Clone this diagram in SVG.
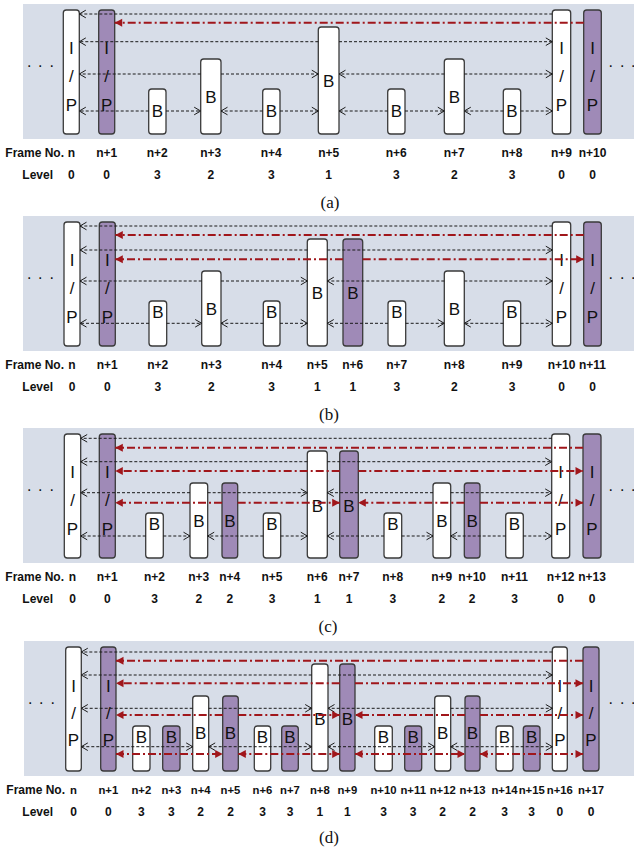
<svg xmlns="http://www.w3.org/2000/svg" width="634" height="853" viewBox="0 0 634 853">
<style>
.bg{fill:#D7DDE8}
.w{fill:#fff;stroke:#3a3a3a;stroke-width:1.3}
.p{fill:#9F8AB7;stroke:#3a3a3a;stroke-width:1.3}
.bl{stroke:#1a1a1a;stroke-width:1;stroke-dasharray:3 2;fill:none;marker-end:url(#ah)}
.rd{stroke:#A0161B;stroke-width:2;stroke-dasharray:8 3 2 3;fill:none;marker-end:url(#rh)}
.b2{marker-start:url(#ah)}
.r2{marker-start:url(#rh)}
.t{font-family:'Liberation Sans',Arial,sans-serif;font-size:17px;text-anchor:middle;fill:#111}
.lb{font-family:'Liberation Sans',Arial,sans-serif;font-size:12px;font-weight:bold;text-anchor:middle;fill:#111}
.sm{font-size:11.3px}
.le{text-anchor:end}
.dots{font-family:'Liberation Sans',Arial,sans-serif;font-size:16px;fill:#111}
.cap{font-family:'Liberation Serif','Times New Roman',serif;font-size:17px;text-anchor:middle;fill:#111}
</style>
<defs>
<marker id="ah" markerUnits="userSpaceOnUse" markerWidth="12" markerHeight="12" viewBox="-8 -6 12 12" refX="0" refY="0" orient="auto-start-reverse"><path d="M-6.5,-3.8 L0,0 L-6.5,3.8" fill="none" stroke="#1a1a1a" stroke-width="1"/></marker>
<marker id="rh" markerUnits="userSpaceOnUse" markerWidth="12" markerHeight="12" viewBox="-8 -6 12 12" refX="0" refY="0" orient="auto-start-reverse"><path d="M-7.5,-4 L0,0 L-7.5,4 z" fill="#A0161B"/></marker>
</defs>

<!-- ================= PANEL (a) ================= -->
<g id="panel-a">
<rect class="bg" x="23" y="4" width="611" height="135"/>
<text class="dots" x="27 38 49.5" y="67">...</text>
<text class="dots" x="608.5 620 631" y="67">...</text>
<g id="a-n"><rect class="w" x="63.3" y="10" width="16" height="124" rx="3"/><text class="t" x="71.3" y="54">I</text><text class="t" x="71.3" y="82">/</text><text class="t" x="71.3" y="111">P</text></g>
<g id="a-n1"><rect class="p" x="98.7" y="10" width="16" height="124" rx="3"/><text class="t" x="106.7" y="54">I</text><text class="t" x="106.7" y="82">/</text><text class="t" x="106.7" y="111">P</text></g>
<g id="a-n2"><rect class="w" x="148.7" y="89" width="17.3" height="45" rx="3"/><text class="t" x="157.3" y="117">B</text></g>
<g id="a-n3"><rect class="w" x="200.7" y="59" width="20.3" height="75" rx="3"/><text class="t" x="210.8" y="103">B</text></g>
<g id="a-n4"><rect class="w" x="262.7" y="89" width="17.3" height="45" rx="3"/><text class="t" x="271.3" y="117">B</text></g>
<g id="a-n5"><rect class="w" x="318.3" y="27" width="20.7" height="107" rx="3"/><text class="t" x="328.7" y="87">B</text></g>
<g id="a-n6"><rect class="w" x="387.7" y="89" width="17.3" height="45" rx="3"/><text class="t" x="396.3" y="117">B</text></g>
<g id="a-n7"><rect class="w" x="444.3" y="59" width="20" height="75" rx="3"/><text class="t" x="454.3" y="103">B</text></g>
<g id="a-n8"><rect class="w" x="503.3" y="89" width="17.4" height="45" rx="3"/><text class="t" x="512" y="117">B</text></g>
<g id="a-n9"><rect class="w" x="552.3" y="10" width="18.4" height="124" rx="3"/><text class="t" x="561.5" y="54">I</text><text class="t" x="561.5" y="82">/</text><text class="t" x="561.5" y="111">P</text></g>
<g id="a-n10"><rect class="p" x="583.7" y="10" width="17.6" height="124" rx="3"/><text class="t" x="592.5" y="54">I</text><text class="t" x="592.5" y="82">/</text><text class="t" x="592.5" y="111">P</text></g>
<g id="a-connectors">
<line class="bl" x1="552.3" y1="14" x2="79.3" y2="14"/>
<line class="rd" x1="583.7" y1="22.7" x2="114.7" y2="22.7"/>
<line class="bl" x1="318.3" y1="41.7" x2="79.3" y2="41.7"/>
<line class="bl" x1="339" y1="41.7" x2="552.3" y2="41.7"/>
<line class="bl" x1="200.7" y1="74" x2="79.3" y2="74"/>
<line class="bl" x1="221" y1="74" x2="318.3" y2="74"/>
<line class="bl" x1="444.3" y1="74" x2="339" y2="74"/>
<line class="bl" x1="464.3" y1="74" x2="552.3" y2="74"/>
<line class="bl" x1="148.7" y1="111" x2="79.3" y2="111"/>
<line class="bl" x1="166" y1="111" x2="200.7" y2="111"/>
<line class="bl" x1="262.7" y1="111" x2="221" y2="111"/>
<line class="bl" x1="280" y1="111" x2="318.3" y2="111"/>
<line class="bl" x1="387.7" y1="111" x2="339" y2="111"/>
<line class="bl" x1="405" y1="111" x2="444.3" y2="111"/>
<line class="bl" x1="503.3" y1="111" x2="464.3" y2="111"/>
<line class="bl" x1="520.7" y1="111" x2="552.3" y2="111"/>
</g>
<g id="a-labels">
<text class="lb le" x="64" y="157">Frame No.</text>
<text class="lb" x="71.3" y="157">n</text><text class="lb" x="106.7" y="157">n+1</text><text class="lb" x="157.3" y="157">n+2</text><text class="lb" x="210.8" y="157">n+3</text><text class="lb" x="271.3" y="157">n+4</text><text class="lb" x="328.7" y="157">n+5</text><text class="lb" x="396.3" y="157">n+6</text><text class="lb" x="454.3" y="157">n+7</text><text class="lb" x="512" y="157">n+8</text><text class="lb" x="561.5" y="157">n+9</text><text class="lb" x="592.5" y="157">n+10</text>
<text class="lb le" x="53" y="179">Level</text>
<text class="lb" x="71.3" y="179">0</text><text class="lb" x="106.7" y="179">0</text><text class="lb" x="157.3" y="179">3</text><text class="lb" x="210.8" y="179">2</text><text class="lb" x="271.3" y="179">3</text><text class="lb" x="328.7" y="179">1</text><text class="lb" x="396.3" y="179">3</text><text class="lb" x="454.3" y="179">2</text><text class="lb" x="512" y="179">3</text><text class="lb" x="561.5" y="179">0</text><text class="lb" x="592.5" y="179">0</text>
<text class="cap" x="330" y="208">(a)</text>
</g>
</g>

<!-- ================= PANEL (b) ================= -->
<g id="panel-b" transform="translate(0,212)">
<rect class="bg" x="23" y="4" width="611" height="135"/>
<text class="dots" x="27 38 49.5" y="67">...</text>
<text class="dots" x="608.5 620 631" y="67">...</text>
<g id="b-n"><rect class="w" x="64" y="10" width="16" height="124" rx="3"/><text class="t" x="72" y="54">I</text><text class="t" x="72" y="82">/</text><text class="t" x="72" y="111">P</text></g>
<g id="b-n1"><rect class="p" x="99.3" y="10" width="16" height="124" rx="3"/><text class="t" x="107.3" y="54">I</text><text class="t" x="107.3" y="82">/</text><text class="t" x="107.3" y="111">P</text></g>
<g id="b-n2"><rect class="w" x="149" y="89" width="17.7" height="45" rx="3"/><text class="t" x="157.8" y="106">B</text></g>
<g id="b-n3"><rect class="w" x="201.7" y="59" width="19.3" height="75" rx="3"/><text class="t" x="211.3" y="103">B</text></g>
<g id="b-n4"><rect class="w" x="263.3" y="89" width="16.7" height="45" rx="3"/><text class="t" x="271.7" y="106">B</text></g>
<g id="b-n5"><rect class="w" x="307.3" y="27" width="20" height="107" rx="3"/><text class="t" x="317.3" y="86.5">B</text></g>
<g id="b-n6"><rect class="p" x="343" y="27" width="19.7" height="107" rx="3"/><text class="t" x="352.8" y="86.5">B</text></g>
<g id="b-n7"><rect class="w" x="388" y="89" width="17.7" height="45" rx="3"/><text class="t" x="396.8" y="106">B</text></g>
<g id="b-n8"><rect class="w" x="444.3" y="59" width="20" height="75" rx="3"/><text class="t" x="454.3" y="103">B</text></g>
<g id="b-n9"><rect class="w" x="503.3" y="89" width="17.4" height="45" rx="3"/><text class="t" x="512" y="106">B</text></g>
<g id="b-n10"><rect class="w" x="552.3" y="10" width="18.4" height="124" rx="3"/><text class="t" x="561.5" y="54">I</text><text class="t" x="561.5" y="82">/</text><text class="t" x="561.5" y="111">P</text></g>
<g id="b-n11"><rect class="p" x="583.7" y="10" width="17.6" height="124" rx="3"/><text class="t" x="592.5" y="54">I</text><text class="t" x="592.5" y="82">/</text><text class="t" x="592.5" y="111">P</text></g>
<g id="b-connectors">
<line class="bl" x1="552.3" y1="14" x2="80" y2="14"/>
<line class="rd" x1="583.7" y1="23" x2="115.3" y2="23"/>
<line class="bl" x1="307.3" y1="38" x2="80" y2="38"/>
<line class="bl" x1="327.3" y1="38" x2="552.3" y2="38"/>
<line class="rd" x1="343" y1="47.3" x2="115.3" y2="47.3"/>
<line class="rd" x1="362.7" y1="47.3" x2="583.7" y2="47.3"/>
<line class="bl" x1="201.7" y1="69" x2="80" y2="69"/>
<line class="bl" x1="221" y1="69" x2="307.3" y2="69"/>
<line class="bl" x1="444.3" y1="69" x2="327.3" y2="69"/>
<line class="bl" x1="464.3" y1="69" x2="552.3" y2="69"/>
<line class="bl" x1="149" y1="111.3" x2="80" y2="111.3"/>
<line class="bl" x1="166.7" y1="111.3" x2="201.7" y2="111.3"/>
<line class="bl" x1="263.3" y1="111.3" x2="221" y2="111.3"/>
<line class="bl" x1="280" y1="111.3" x2="307.3" y2="111.3"/>
<line class="bl" x1="388" y1="111.3" x2="327.3" y2="111.3"/>
<line class="bl" x1="405.7" y1="111.3" x2="444.3" y2="111.3"/>
<line class="bl" x1="503.3" y1="111.3" x2="464.3" y2="111.3"/>
<line class="bl" x1="520.7" y1="111.3" x2="552.3" y2="111.3"/>
</g>
<g id="b-labels">
<text class="lb le" x="64" y="157">Frame No.</text>
<text class="lb" x="72" y="157">n</text><text class="lb" x="107.3" y="157">n+1</text><text class="lb" x="157.8" y="157">n+2</text><text class="lb" x="211.3" y="157">n+3</text><text class="lb" x="271.7" y="157">n+4</text><text class="lb" x="317.3" y="157">n+5</text><text class="lb" x="352.8" y="157">n+6</text><text class="lb" x="396.8" y="157">n+7</text><text class="lb" x="454.3" y="157">n+8</text><text class="lb" x="512" y="157">n+9</text><text class="lb" x="561.5" y="157">n+10</text><text class="lb" x="592.5" y="157">n+11</text>
<text class="lb le" x="53" y="179">Level</text>
<text class="lb" x="72" y="179">0</text><text class="lb" x="107.3" y="179">0</text><text class="lb" x="157.8" y="179">3</text><text class="lb" x="211.3" y="179">2</text><text class="lb" x="271.7" y="179">3</text><text class="lb" x="317.3" y="179">1</text><text class="lb" x="352.8" y="179">1</text><text class="lb" x="396.8" y="179">3</text><text class="lb" x="454.3" y="179">2</text><text class="lb" x="512" y="179">3</text><text class="lb" x="561.5" y="179">0</text><text class="lb" x="592.5" y="179">0</text>
<text class="cap" x="329" y="208">(b)</text>
</g>
</g>

<!-- ================= PANEL (c) ================= -->
<g id="panel-c" transform="translate(0,424)">
<rect class="bg" x="23" y="4" width="611" height="135"/>
<text class="dots" x="27 38 49.5" y="67">...</text>
<text class="dots" x="608.5 620 631" y="67">...</text>
<g id="c-n"><rect class="w" x="64.3" y="10" width="16.4" height="124" rx="3"/><text class="t" x="72.5" y="54">I</text><text class="t" x="72.5" y="82">/</text><text class="t" x="72.5" y="111">P</text></g>
<g id="c-n1"><rect class="p" x="99.3" y="10" width="16" height="124" rx="3"/><text class="t" x="107.3" y="54">I</text><text class="t" x="107.3" y="82">/</text><text class="t" x="107.3" y="111">P</text></g>
<g id="c-n2"><rect class="w" x="145.7" y="89" width="17.6" height="45" rx="3"/><text class="t" x="154.5" y="106">B</text></g>
<g id="c-n3"><rect class="w" x="190" y="59" width="17.7" height="75" rx="3"/><text class="t" x="198.8" y="103">B</text></g>
<g id="c-n4"><rect class="p" x="222" y="59" width="15.7" height="75" rx="3"/><text class="t" x="229.8" y="103">B</text></g>
<g id="c-n5"><rect class="w" x="263.3" y="89" width="17.4" height="45" rx="3"/><text class="t" x="272" y="106">B</text></g>
<g id="c-n6"><rect class="w" x="307.3" y="27" width="20" height="107" rx="3"/><text class="t" x="317.3" y="87.5">B</text></g>
<g id="c-n7"><rect class="p" x="339.7" y="27" width="18.6" height="107" rx="3"/><text class="t" x="349" y="87.5">B</text></g>
<g id="c-n8"><rect class="w" x="384" y="89" width="17.7" height="45" rx="3"/><text class="t" x="392.8" y="106">B</text></g>
<g id="c-n9"><rect class="w" x="433" y="59" width="17.7" height="75" rx="3"/><text class="t" x="441.8" y="103">B</text></g>
<g id="c-n10"><rect class="p" x="464.3" y="59" width="15.7" height="75" rx="3"/><text class="t" x="472.2" y="103">B</text></g>
<g id="c-n11"><rect class="w" x="505.7" y="89" width="17.6" height="45" rx="3"/><text class="t" x="514.5" y="106">B</text></g>
<g id="c-n12"><rect class="w" x="551.7" y="10" width="18" height="124" rx="3"/><text class="t" x="560.7" y="54">I</text><text class="t" x="560.7" y="82">/</text><text class="t" x="560.7" y="111">P</text></g>
<g id="c-n13"><rect class="p" x="583" y="10" width="18" height="124" rx="3"/><text class="t" x="592" y="54">I</text><text class="t" x="592" y="82">/</text><text class="t" x="592" y="111">P</text></g>
<g id="c-connectors">
<line class="bl" x1="551.7" y1="14.3" x2="80.7" y2="14.3"/>
<line class="rd" x1="583" y1="23.7" x2="115.3" y2="23.7"/>
<line class="bl" x1="307.3" y1="37.7" x2="80.7" y2="37.7"/>
<line class="bl" x1="327.3" y1="37.7" x2="551.7" y2="37.7"/>
<line class="rd" x1="339.7" y1="47" x2="115.3" y2="47"/>
<line class="rd" x1="358.3" y1="47" x2="583" y2="47"/>
<line class="bl" x1="190" y1="68.7" x2="80.7" y2="68.7"/>
<line class="bl" x1="207.7" y1="68.7" x2="307.3" y2="68.7"/>
<line class="bl" x1="433" y1="68.7" x2="327.3" y2="68.7"/>
<line class="bl" x1="450.7" y1="68.7" x2="551.7" y2="68.7"/>
<line class="rd" x1="222" y1="78.7" x2="115.3" y2="78.7"/>
<line class="rd" x1="237.7" y1="78.7" x2="339.7" y2="78.7"/>
<line class="rd" x1="464.3" y1="78.7" x2="358.3" y2="78.7"/>
<line class="rd" x1="480" y1="78.7" x2="583" y2="78.7"/>
<line class="bl" x1="145.7" y1="112" x2="80.7" y2="112"/>
<line class="bl" x1="163.3" y1="112" x2="190" y2="112"/>
<line class="bl" x1="263.3" y1="112" x2="207.7" y2="112"/>
<line class="bl" x1="280.7" y1="112" x2="307.3" y2="112"/>
<line class="bl" x1="384" y1="112" x2="327.3" y2="112"/>
<line class="bl" x1="401.7" y1="112" x2="433" y2="112"/>
<line class="bl" x1="505.7" y1="112" x2="450.7" y2="112"/>
<line class="bl" x1="523.3" y1="112" x2="551.7" y2="112"/>
</g>
<g id="c-labels">
<text class="lb le" x="64" y="157">Frame No.</text>
<text class="lb" x="72.5" y="157">n</text><text class="lb" x="107.3" y="157">n+1</text><text class="lb" x="154.5" y="157">n+2</text><text class="lb" x="198.8" y="157">n+3</text><text class="lb" x="229.8" y="157">n+4</text><text class="lb" x="272" y="157">n+5</text><text class="lb" x="317.3" y="157">n+6</text><text class="lb" x="349" y="157">n+7</text><text class="lb" x="392.8" y="157">n+8</text><text class="lb" x="441.8" y="157">n+9</text><text class="lb" x="472.2" y="157">n+10</text><text class="lb" x="514.5" y="157">n+11</text><text class="lb" x="560.7" y="157">n+12</text><text class="lb" x="592" y="157">n+13</text>
<text class="lb le" x="53" y="179">Level</text>
<text class="lb" x="72.5" y="179">0</text><text class="lb" x="107.3" y="179">0</text><text class="lb" x="154.5" y="179">3</text><text class="lb" x="198.8" y="179">2</text><text class="lb" x="229.8" y="179">2</text><text class="lb" x="272" y="179">3</text><text class="lb" x="317.3" y="179">1</text><text class="lb" x="349" y="179">1</text><text class="lb" x="392.8" y="179">3</text><text class="lb" x="441.8" y="179">2</text><text class="lb" x="472.2" y="179">2</text><text class="lb" x="514.5" y="179">3</text><text class="lb" x="560.7" y="179">0</text><text class="lb" x="592" y="179">0</text>
<text class="cap" x="328" y="208">(c)</text>
</g>
</g>

<!-- ================= PANEL (d) ================= -->
<g id="panel-d" transform="translate(0,637)">
<rect class="bg" x="24" y="4" width="610" height="135"/>
<text class="dots" x="28 39 50.5" y="67">...</text>
<text class="dots" x="608.5 620 631" y="67">...</text>
<g id="d-n"><rect class="w" x="65.7" y="10" width="15.6" height="124" rx="3"/><text class="t" x="73.5" y="54.5">I</text><text class="t" x="73.5" y="82">/</text><text class="t" x="73.5" y="108.5">P</text></g>
<g id="d-n1"><rect class="p" x="100.7" y="10" width="15.3" height="124" rx="3"/><text class="t" x="108.3" y="54.5">I</text><text class="t" x="108.3" y="82">/</text><text class="t" x="108.3" y="108.5">P</text></g>
<g id="d-n2"><rect class="w" x="132.7" y="89" width="17.3" height="45" rx="3"/><text class="t" x="141.3" y="106">B</text></g>
<g id="d-n3"><rect class="p" x="162.7" y="89" width="17.3" height="45" rx="3"/><text class="t" x="171.3" y="106">B</text></g>
<g id="d-n4"><rect class="w" x="192.7" y="59" width="16" height="75" rx="3"/><text class="t" x="200.7" y="102">B</text></g>
<g id="d-n5"><rect class="p" x="222.7" y="59" width="15.6" height="75" rx="3"/><text class="t" x="230.5" y="102">B</text></g>
<g id="d-n6"><rect class="w" x="254.3" y="89" width="16.4" height="45" rx="3"/><text class="t" x="262.5" y="106">B</text></g>
<g id="d-n7"><rect class="p" x="281.7" y="89" width="16.6" height="45" rx="3"/><text class="t" x="290" y="106">B</text></g>
<g id="d-n8"><rect class="w" x="311.7" y="27" width="16.3" height="107" rx="3"/><text class="t" x="319.8" y="87.5">B</text></g>
<g id="d-n9"><rect class="p" x="339.7" y="27" width="15.3" height="107" rx="3"/><text class="t" x="347.3" y="87.5">B</text></g>
<g id="d-n10"><rect class="w" x="374.7" y="89" width="17.6" height="45" rx="3"/><text class="t" x="383.5" y="106">B</text></g>
<g id="d-n11"><rect class="p" x="404.7" y="89" width="17" height="45" rx="3"/><text class="t" x="413.2" y="106">B</text></g>
<g id="d-n12"><rect class="w" x="434.7" y="59" width="16" height="75" rx="3"/><text class="t" x="442.7" y="102">B</text></g>
<g id="d-n13"><rect class="p" x="465" y="59" width="15" height="75" rx="3"/><text class="t" x="472.5" y="102">B</text></g>
<g id="d-n14"><rect class="w" x="496" y="89" width="17" height="45" rx="3"/><text class="t" x="504.5" y="106">B</text></g>
<g id="d-n15"><rect class="p" x="523.3" y="89" width="16.7" height="45" rx="3"/><text class="t" x="531.7" y="106">B</text></g>
<g id="d-n16"><rect class="w" x="552.3" y="10" width="15" height="124" rx="3"/><text class="t" x="559.8" y="54.5">I</text><text class="t" x="559.8" y="82">/</text><text class="t" x="559.8" y="108.5">P</text></g>
<g id="d-n17"><rect class="p" x="583" y="10" width="16" height="124" rx="3"/><text class="t" x="591" y="54.5">I</text><text class="t" x="591" y="82">/</text><text class="t" x="591" y="108.5">P</text></g>
<g id="d-connectors">
<line class="bl" x1="552.3" y1="15" x2="81.3" y2="15"/>
<line class="rd" x1="583" y1="23.7" x2="116" y2="23.7"/>
<line class="bl" x1="311.7" y1="38" x2="81.3" y2="38"/>
<line class="bl" x1="328" y1="38" x2="552.3" y2="38"/>
<line class="rd" x1="339.7" y1="46.3" x2="116" y2="46.3"/>
<line class="rd" x1="355" y1="46.3" x2="583" y2="46.3"/>
<line class="bl" x1="192.7" y1="71.3" x2="81.3" y2="71.3"/>
<line class="bl" x1="208.7" y1="71.3" x2="311.7" y2="71.3"/>
<line class="bl" x1="434.7" y1="71.3" x2="328" y2="71.3"/>
<line class="bl" x1="450.7" y1="71.3" x2="552.3" y2="71.3"/>
<line class="rd" x1="222.7" y1="78" x2="116" y2="78"/>
<line class="rd" x1="238.3" y1="78" x2="339.7" y2="78"/>
<line class="rd" x1="465" y1="78" x2="355" y2="78"/>
<line class="rd" x1="480" y1="78" x2="583" y2="78"/>
<line class="bl b2" x1="81.3" y1="109.7" x2="192.7" y2="109.7"/>
<line class="bl b2" x1="208.7" y1="109.7" x2="311.7" y2="109.7"/>
<line class="bl b2" x1="328" y1="109.7" x2="434.7" y2="109.7"/>
<line class="bl b2" x1="450.7" y1="109.7" x2="552.3" y2="109.7"/>
<line class="rd r2" x1="116" y1="117" x2="222.7" y2="117"/>
<line class="rd r2" x1="238.3" y1="117" x2="339.7" y2="117"/>
<line class="rd r2" x1="355" y1="117" x2="465" y2="117"/>
<line class="rd r2" x1="480" y1="117" x2="583" y2="117"/>
</g>
<g id="d-labels">
<text class="lb le" x="65" y="157">Frame No.</text>
<text class="lb sm" x="73.5" y="157">n</text><text class="lb sm" x="108.3" y="157">n+1</text><text class="lb sm" x="141.3" y="157">n+2</text><text class="lb sm" x="171.3" y="157">n+3</text><text class="lb sm" x="200.7" y="157">n+4</text><text class="lb sm" x="230.5" y="157">n+5</text><text class="lb sm" x="262.5" y="157">n+6</text><text class="lb sm" x="290" y="157">n+7</text><text class="lb sm" x="319.8" y="157">n+8</text><text class="lb sm" x="347.3" y="157">n+9</text><text class="lb sm" x="383.5" y="157">n+10</text><text class="lb sm" x="413.2" y="157">n+11</text><text class="lb sm" x="442.7" y="157">n+12</text><text class="lb sm" x="472.5" y="157">n+13</text><text class="lb sm" x="504.5" y="157">n+14</text><text class="lb sm" x="531.7" y="157">n+15</text><text class="lb sm" x="559.8" y="157">n+16</text><text class="lb sm" x="591" y="157">n+17</text>
<text class="lb le" x="53" y="179">Level</text>
<text class="lb" x="73.5" y="179">0</text><text class="lb" x="108.3" y="179">0</text><text class="lb" x="141.3" y="179">3</text><text class="lb" x="171.3" y="179">3</text><text class="lb" x="200.7" y="179">2</text><text class="lb" x="230.5" y="179">2</text><text class="lb" x="262.5" y="179">3</text><text class="lb" x="290" y="179">3</text><text class="lb" x="319.8" y="179">1</text><text class="lb" x="347.3" y="179">1</text><text class="lb" x="383.5" y="179">3</text><text class="lb" x="413.2" y="179">3</text><text class="lb" x="442.7" y="179">2</text><text class="lb" x="472.5" y="179">2</text><text class="lb" x="504.5" y="179">3</text><text class="lb" x="531.7" y="179">3</text><text class="lb" x="559.8" y="179">0</text><text class="lb" x="591" y="179">0</text>
<text class="cap" x="329" y="206">(d)</text>
</g>
</g>
</svg>
